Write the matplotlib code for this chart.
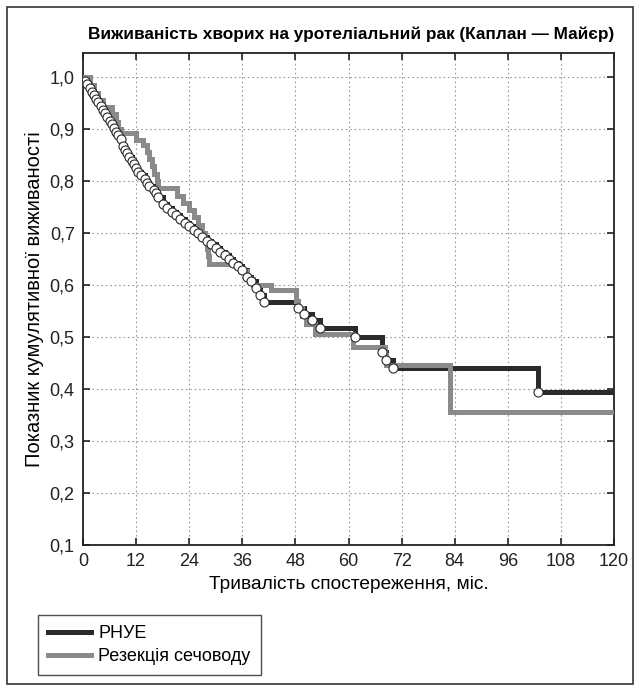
import matplotlib
matplotlib.use("Agg")
from matplotlib import pyplot as plt
import matplotlib.patches as patch
import numpy as np

plt.rcParams['font.family'] = ['Liberation Sans', 'DejaVu Sans']

# РНУЕ: step times (months) and survival after each step
rnue_t = [0.5, 1.0, 1.5, 2.0, 2.5, 3.0, 3.5, 4.0, 4.5, 5.0, 5.5, 6.0, 6.5, 7.0,
          7.5, 8.0, 8.5, 9.0, 9.5, 10.0, 10.5, 11.0, 11.5, 12.0, 12.5, 13.0,
          14.0, 14.5, 15.0, 16.0, 16.5, 17.0, 18.0, 19.0, 20.0, 21.0, 22.0,
          23.0, 24.0, 25.0, 26.0, 27.0, 28.0, 29.0, 30.0, 31.0, 32.0, 33.0,
          34.0, 35.0, 36.0, 37.0, 38.0, 39.0, 40.0, 41.0, 48.5, 50.0, 51.7,
          53.5, 61.5, 67.6, 68.5, 70.0, 102.8]
rnue_s = [0.993, 0.986, 0.979, 0.972, 0.965, 0.958, 0.951, 0.944, 0.937, 0.930,
          0.923, 0.916, 0.909, 0.902, 0.895, 0.888, 0.881, 0.867, 0.860, 0.853,
          0.846, 0.839, 0.832, 0.825, 0.818, 0.811, 0.804, 0.797, 0.790, 0.783,
          0.776, 0.769, 0.755, 0.748, 0.741, 0.734, 0.727, 0.720, 0.713, 0.706,
          0.699, 0.692, 0.685, 0.678, 0.671, 0.664, 0.657, 0.650, 0.643, 0.636,
          0.629, 0.615, 0.608, 0.594, 0.580, 0.567, 0.556, 0.545, 0.533, 0.517,
          0.500, 0.471, 0.455, 0.440, 0.394]

# Резекція сечоводу
res_t = [1.5, 2.5, 3.5, 4.5, 6.5, 7.5, 8.0, 8.5, 12.0, 13.5, 14.4, 15.0, 15.5,
         16.0, 16.7, 17.0, 21.2, 22.5, 24.0, 25.0, 26.0, 27.0, 27.5, 28.0,
         28.2, 28.5, 35.5, 37.0, 38.5, 42.5, 48.2, 48.6, 49.5, 50.5, 52.5,
         61.0, 68.2, 68.5, 83.0]
res_s = [0.985, 0.970, 0.956, 0.942, 0.928, 0.914, 0.900, 0.893, 0.879, 0.870,
         0.856, 0.842, 0.828, 0.814, 0.800, 0.786, 0.772, 0.758, 0.744, 0.730,
         0.716, 0.700, 0.685, 0.670, 0.655, 0.640, 0.626, 0.612, 0.600, 0.590,
         0.570, 0.555, 0.540, 0.525, 0.505, 0.480, 0.465, 0.447, 0.356]

t_max = 120
x_ticks = list(range(0, 121, 12))
y_ticks = [0.1, 0.2, 0.3, 0.4, 0.5, 0.6, 0.7, 0.8, 0.9, 1.0]
y_labels = [f"{v:.1f}".replace(".", ",") for v in y_ticks]

fig = plt.figure(figsize=(6.37, 6.86), dpi=100)
ax = fig.add_axes([0.1303, 0.2055, 0.8336, 0.7172])

bx = [0] + rnue_t + [t_max]
by = [1.0] + rnue_s + [rnue_s[-1]]
gx = [0] + res_t + [t_max]
gy = [1.0] + res_s + [res_s[-1]]

ax.step(bx, by, where='post', color='#2a2a2a', lw=3.6, solid_joinstyle='miter',
        label='РНУЕ', zorder=3)
ax.step(gx, gy, where='post', color='#8a8a8a', lw=3.6, solid_joinstyle='miter',
        label='Резекція сечоводу', zorder=4)
ax.plot(rnue_t, rnue_s, 'o', ms=6.5, mfc='white', mec='#2a2a2a', mew=0.8, zorder=5)

ax.set_xlim(0, t_max)
ax.set_ylim(0.1, 1.046)
ax.set_xticks(x_ticks)
ax.set_yticks(y_ticks)
ax.set_yticklabels(y_labels)
ax.grid(True, ls=(0, (1.5, 2.5)), color='#999999', lw=0.8)
ax.tick_params(direction='in', length=5, width=1.2, top=True, right=True,
               labelsize=13, colors='#222222', pad=6)
for s in ax.spines.values():
    s.set_linewidth(1.3)
    s.set_color('#222222')

ax.set_title('Виживаність хворих на уротеліальний рак (Каплан — Майєр)',
             fontsize=12.4, fontweight='bold', pad=10, loc='right')
ax.set_xlabel('Тривалість спостереження, міс.', fontsize=13.8, labelpad=4)
ax.set_ylabel('Показник кумулятивної виживаності', fontsize=14.5, labelpad=4)

fig.legend(loc='upper left', bbox_to_anchor=(38 / 637, 1 - 615 / 686),
           frameon=True, fancybox=False, edgecolor='#222222', fontsize=13,
           handlelength=2.4, handletextpad=0.4, borderpad=0.55, labelspacing=0.35,
           borderaxespad=0)

fig.add_artist(patch.Rectangle((7 / 637, 2 / 686), 626 / 637, 677 / 686,
                               transform=fig.transFigure, fill=False,
                               edgecolor='#333333', lw=1.2))

fig.savefig('out.png', dpi=100)
